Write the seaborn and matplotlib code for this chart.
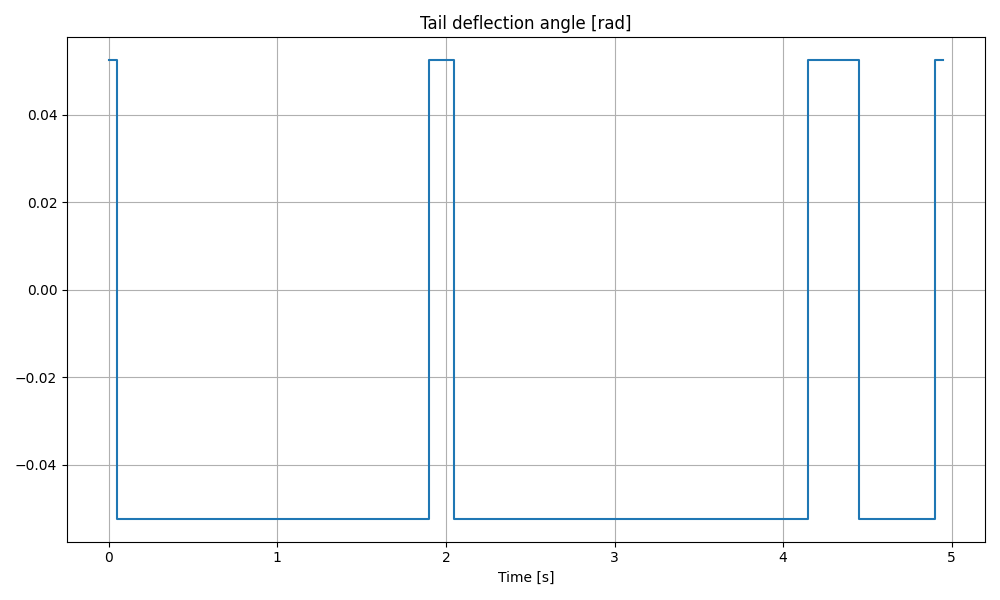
import matplotlib
matplotlib.use("Agg")
import matplotlib.pyplot as plt
import seaborn as sns
import pandas as pd

# switching instants of the tail deflection [s] and the angle held after each [rad]
switch_times = [0.0, 0.05, 1.9, 2.05, 4.15, 4.45, 4.9, 4.95]
deflection = [0.0524, -0.0524, 0.0524, -0.0524, 0.0524, -0.0524, 0.0524, 0.0524]

df = pd.DataFrame({'t': switch_times, 'delta': deflection})

fig, ax = plt.subplots(figsize=(10, 6), dpi=100)
sns.lineplot(data=df, x='t', y='delta', ax=ax, drawstyle='steps-post',
             color='#1f77b4', linewidth=1.5, estimator=None)

ax.set_title('Tail deflection angle [rad]')
ax.set_xlabel('Time [s]')
ax.set_ylabel('')
ax.grid(True)

fig.tight_layout()
fig.savefig('out.png', dpi=100)
